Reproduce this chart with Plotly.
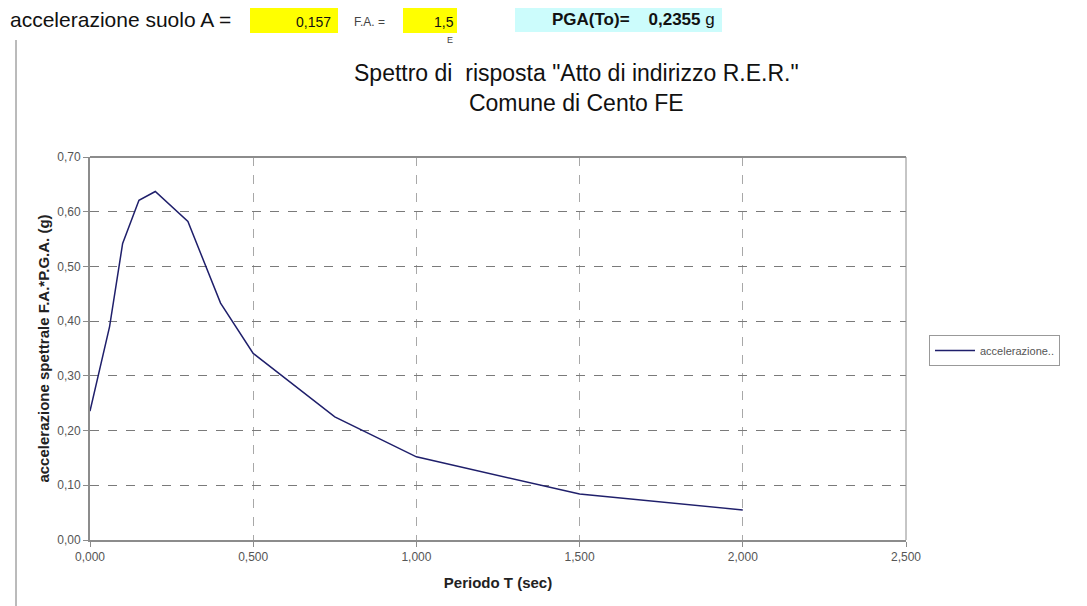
import plotly.graph_objects as go

# spectrum values
periodo = [0.0, 0.06, 0.10, 0.15, 0.20, 0.30, 0.40, 0.50, 0.75, 1.00, 1.50, 2.00]
accel = [0.2355, 0.39, 0.542, 0.621, 0.637, 0.582, 0.433, 0.341, 0.225, 0.152, 0.084, 0.055]

x_ticks = [0.0, 0.5, 1.0, 1.5, 2.0, 2.5]
x_labels = ["0,000", "0,500", "1,000", "1,500", "2,000", "2,500"]
y_ticks = [0.0, 0.1, 0.2, 0.3, 0.4, 0.5, 0.6, 0.7]
y_labels = ["0,00", "0,10", "0,20", "0,30", "0,40", "0,50", "0,60", "0,70"]

OFF = 8  # page body margin
W, H = 1087 - OFF, 606 - OFF
L, R, T, B = 90 - OFF, 906 - OFF, 157 - OFF, 540 - OFF
FONT = "Arial, Liberation Sans, sans-serif"


def px(x):
    return (x - OFF - L) / (R - L)


def py(y):
    return (B - (y - OFF)) / (B - T)


fig = go.Figure()
fig.add_trace(go.Scatter(x=periodo, y=accel, mode="lines", name="accelerazione..",
                         line=dict(color="#1f1f6b", width=1.5)))

axis = dict(showgrid=True, griddash="dash", gridwidth=1,
            showline=True, linecolor="#8c8c8c", linewidth=2, mirror=False,
            ticks="outside", ticklen=5, tickcolor="#8c8c8c",
            tickfont=dict(family=FONT, size=12, color="#555555"), zeroline=False)

fig.update_xaxes(range=[0, 2.5], tickvals=x_ticks, ticktext=x_labels, gridcolor="#a8a8a8",
                 title=dict(text="<b>Periodo T (sec)</b>", font=dict(family=FONT, size=15, color="#222"),
                            standoff=14), **axis)
fig.update_yaxes(range=[0, 0.7], tickvals=y_ticks, ticktext=y_labels, gridcolor="#7a7a7a",
                 title=dict(text="<b>accelerazione spettrale F.A.*P.G.A. (g)</b>",
                            font=dict(family=FONT, size=15, color="#222"), standoff=4), **axis)

shapes = [
    # plot frame top/right
    dict(type="line", xref="paper", yref="paper", x0=0, x1=1, y0=1, y1=1,
         line=dict(color="#8c8c8c", width=2)),
    dict(type="line", xref="paper", yref="paper", x0=1, x1=1, y0=0, y1=1,
         line=dict(color="#8c8c8c", width=1)),
    # chart area left border
    dict(type="line", xref="paper", yref="paper", x0=px(16), x1=px(16), y0=py(40), y1=py(606),
         line=dict(color="#777777", width=1)),
    # header boxes
    dict(type="rect", xref="paper", yref="paper", x0=px(250), x1=px(338), y0=py(33), y1=py(4),
         fillcolor="#ffff00", line=dict(width=0), layer="below"),
    dict(type="rect", xref="paper", yref="paper", x0=px(403), x1=px(457), y0=py(33), y1=py(4),
         fillcolor="#ffff00", line=dict(width=0), layer="below"),
    dict(type="rect", xref="paper", yref="paper", x0=px(515), x1=px(722), y0=py(32), y1=py(3),
         fillcolor="#ccfcfc", line=dict(width=0), layer="below"),
]

ann = [
    dict(text="accelerazione suolo A =", x=px(8), y=py(19), xanchor="left",
         font=dict(family=FONT, size=21, color="#111")),
    dict(text="0,157", x=px(333), y=py(22), xanchor="right", font=dict(family=FONT, size=14, color="#111")),
    dict(text="F.A. =", x=px(352), y=py(22), xanchor="left", font=dict(family=FONT, size=12, color="#444")),
    dict(text="1,5", x=px(456), y=py(22), xanchor="right", font=dict(family=FONT, size=14, color="#111")),
    dict(text="E", x=px(455), y=py(40), xanchor="right", font=dict(family=FONT, size=9, color="#444")),
    dict(text="<b>PGA(To)=</b>    <b>0,2355</b> g", x=px(550), y=py(19), xanchor="left",
         font=dict(family=FONT, size=17, color="#111")),
    dict(text='Spettro di  risposta "Atto di indirizzo R.E.R."<br>Comune di Cento FE',
         x=px(576), y=py(88), xanchor="center", font=dict(family=FONT, size=23, color="#111")),
]
for a in ann:
    a.update(xref="paper", yref="paper", showarrow=False, yanchor="middle")

fig.update_layout(
    width=W, height=H,
    margin=dict(l=L, r=W - R, t=T, b=H - B),
    paper_bgcolor="white", plot_bgcolor="white",
    shapes=shapes, annotations=ann,
    showlegend=True,
    legend=dict(x=px(929), y=py(335), xanchor="left", yanchor="top",
                bordercolor="#999999", borderwidth=1, bgcolor="white",
                font=dict(family=FONT, size=11, color="#555"), entrywidth=145, itemwidth=40),
)

fig.write_html("out.html")
